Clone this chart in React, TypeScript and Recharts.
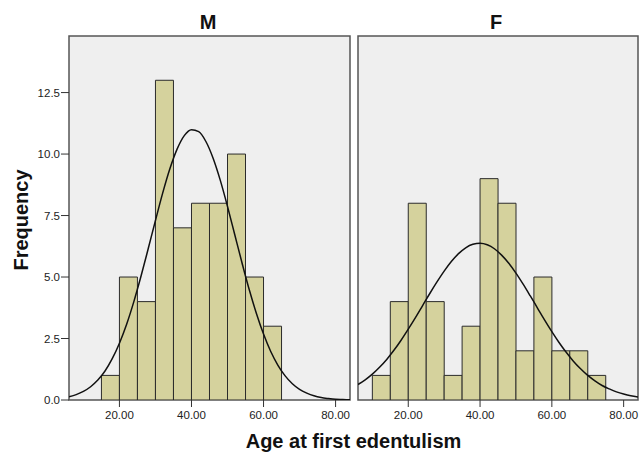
import React from 'react';
import {
  ComposedChart, Bar, Line, XAxis, YAxis, CartesianGrid, ReferenceArea,
} from 'recharts';

// histogram bins (mid points of 5-year bins)
const binsM = [17.5, 22.5, 27.5, 32.5, 37.5, 42.5, 47.5, 52.5, 57.5, 62.5];
const freqM = [1, 5, 4, 13, 7, 8, 8, 10, 5, 3];

const binsF = [12.5, 17.5, 22.5, 27.5, 32.5, 37.5, 42.5, 47.5, 52.5, 57.5, 62.5, 67.5, 72.5];
const freqF = [1, 4, 8, 4, 1, 3, 9, 8, 2, 5, 2, 2, 1];

// normal curve
const curveAge = [6, 8, 10, 12, 14, 16, 18, 20, 22, 24, 26, 28, 30, 32, 34, 36, 38, 40, 42, 44,
  46, 48, 50, 52, 54, 56, 58, 60, 62, 64, 66, 68, 70, 72, 74, 76, 78, 80, 82, 84];
const curveM = [0.13, 0.22, 0.35, 0.54, 0.81, 1.18, 1.68, 2.31, 3.08, 4.0, 5.04, 6.16, 7.3, 8.41,
  9.4, 10.2, 10.75, 10.99, 10.91, 10.51, 9.83, 8.93, 7.87, 6.73, 5.59, 4.5, 3.53, 2.68, 1.97,
  1.41, 0.98, 0.66, 0.43, 0.28, 0.17, 0.1, 0.06, 0.03, 0.02, 0.01];
const curveF = [0.63, 0.82, 1.05, 1.33, 1.65, 2.02, 2.43, 2.88, 3.35, 3.84, 4.33, 4.8, 5.24, 5.63,
  5.95, 6.19, 6.33, 6.37, 6.31, 6.15, 5.89, 5.56, 5.16, 4.71, 4.23, 3.74, 3.25, 2.78, 2.34,
  1.94, 1.58, 1.27, 1.0, 0.78, 0.59, 0.45, 0.33, 0.24, 0.17, 0.12];

const xTicks = [20, 40, 60, 80];
const yTicks = [0, 2.5, 5, 7.5, 10, 12.5];
const xDomain: [number, number] = [6, 84];
const yDomain: [number, number] = [0, 14.8];

const tickStyle = { fill: '#222', fontSize: 11.5 };

interface PanelProps {
  bins: number[];
  freq: number[];
  curve: number[];
  showY: boolean;
  left: number;
  width: number;
  marginLeft: number;
}

function Panel({ bins, freq, curve, showY, left, width, marginLeft }: PanelProps) {
  const bars = bins.map((b, i) => ({ age: b, count: freq[i] }));
  const line = curveAge.map((a, i) => ({ age: a, density: curve[i] }));
  return (
    <div style={{ position: 'absolute', left, top: 0 }}>
      <ComposedChart
        width={width}
        height={452}
        data={bars}
        barCategoryGap={0}
        margin={{ top: 36, right: 1, left: marginLeft, bottom: 22 }}
      >
        <CartesianGrid horizontal={false} vertical={false} fill="#efefef" />
        <XAxis
          xAxisId="bars"
          dataKey="age"
          type="number"
          domain={xDomain}
          ticks={xTicks}
          allowDataOverflow
          tickFormatter={(v: number) => v.toFixed(2)}
          tick={tickStyle}
          tickSize={7}
          tickMargin={4}
          axisLine={false}
          tickLine={{ stroke: '#333' }}
          height={30}
        />
        <XAxis
          xAxisId="curve"
          dataKey="age"
          type="number"
          domain={xDomain}
          allowDataOverflow
          hide
        />
        <YAxis
          type="number"
          domain={yDomain}
          ticks={yTicks}
          allowDataOverflow
          hide={!showY}
          width={69}
          tickFormatter={(v: number) => v.toFixed(1)}
          tick={tickStyle}
          tickSize={8}
          tickMargin={1}
          axisLine={false}
          tickLine={{ stroke: '#333' }}
        />
        <Bar
          xAxisId="bars"
          dataKey="count"
          fill="#d5d29d"
          stroke="#2b2b2b"
          strokeWidth={1}
          isAnimationActive={false}
        />
        <Line
          xAxisId="curve"
          data={line}
          dataKey="density"
          type="monotone"
          stroke="#111"
          strokeWidth={1.5}
          dot={false}
          activeDot={false}
          isAnimationActive={false}
        />
        <ReferenceArea
          xAxisId="bars"
          x1={xDomain[0]}
          x2={xDomain[1]}
          y1={yDomain[0]}
          y2={yDomain[1]}
          fill="none"
          stroke="#555"
          strokeWidth={1.5}
        />
      </ComposedChart>
    </div>
  );
}

export default function App() {
  return (
    <div
      style={{
        position: 'absolute', left: 0, top: 0, width: 639, height: 452,
        background: '#fff', fontFamily: 'Arial, "Liberation Sans", sans-serif',
      }}
    >
      <Panel bins={binsM} freq={freqM} curve={curveM} showY left={0} width={351} marginLeft={0} />
      <Panel bins={binsF} freq={freqF} curve={curveF} showY={false} left={351} width={288} marginLeft={7} />
      <svg
        width={639}
        height={452}
        style={{ position: 'absolute', left: 0, top: 0, pointerEvents: 'none' }}
        fontFamily='Arial, "Liberation Sans", sans-serif'
        fontWeight="bold"
        fill="#111"
      >
        <text x={208} y={29} fontSize={20} textAnchor="middle">M</text>
        <text x={496} y={29} fontSize={20} textAnchor="middle">F</text>
        <text transform="translate(27.5,220) rotate(-90)" fontSize={20} textAnchor="middle">Frequency</text>
        <text x={353.5} y={447.5} fontSize={20} textAnchor="middle">Age at first edentulism</text>
      </svg>
    </div>
  );
}
